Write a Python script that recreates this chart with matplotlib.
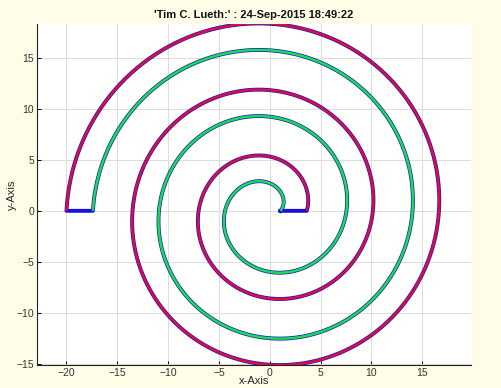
import numpy as np
import matplotlib
matplotlib.use("Agg")
import matplotlib.pyplot as plt

# ================================================
# WAARDEN (afgelezen uit het plaatje)
# ================================================
TITEL = "'Tim C. Lueth:' : 24-Sep-2015 18:49:22"
x_ticks = [-20, -15, -10, -5, 0, 5, 10, 15]
y_ticks = [-15, -10, -5, 0, 5, 10, 15]
x_limits = [-22.9, 19.8]
y_limits = [-15.1, 18.3]

# spiraalband: startstraal binnen- en buitenrand, groei per halve slag, aantal halve slagen
binnen_r0 = 1.1
buiten_r0 = 3.7
groei_per_halve_slag = 3.25
halve_slagen = 5
centrum_x = -0.05

BLAUW = "#1a10d8"
ROOD = "#d8103c"
GROEN = "#18e048"
ACHTERGROND = "#fffde8"


def spiraal(r0):
    """Archimedes-spiraal r = r0 + groei * theta / pi."""
    theta = np.linspace(0, halve_slagen * np.pi, 800)
    r = r0 + groei_per_halve_slag * theta / np.pi
    return centrum_x + r * np.cos(theta), r * np.sin(theta)


xb, yb = spiraal(binnen_r0)
xo, yo = spiraal(buiten_r0)

# gesloten contour: binnenrand heen, buitenrand terug
xc = np.concatenate([xb, xo[::-1], xb[:1]])
yc = np.concatenate([yb, yo[::-1], yb[:1]])

fig = plt.figure(figsize=(5.02, 3.88), dpi=100, facecolor=ACHTERGROND)
ax = fig.add_axes([0.0737, 0.0593, 0.8645, 0.8789])
ax.set_facecolor("white")

ax.plot(xc, yc, color=BLAUW, lw=2.8, solid_joinstyle="round", zorder=3)
ax.plot(xo, yo, color=ROOD, lw=1.8, solid_capstyle="butt", zorder=4)
ax.plot(xb, yb, color=GROEN, lw=1.8, solid_capstyle="butt", zorder=4)

ax.set_xlim(x_limits)
ax.set_ylim(y_limits)
ax.set_xticks(x_ticks)
ax.set_yticks(y_ticks)
ax.grid(True, color="#dcdcdc", lw=0.7)
ax.set_axisbelow(True)

for s in ["top", "right"]:
    ax.spines[s].set_visible(False)
for s in ["left", "bottom"]:
    ax.spines[s].set_color("#222222")
    ax.spines[s].set_linewidth(0.8)

fam = ["Liberation Sans", "DejaVu Sans"]
ax.tick_params(direction="in", length=3, width=0.7, labelsize=7.5,
               labelcolor="#333333", pad=2)
for lab in ax.get_xticklabels() + ax.get_yticklabels():
    lab.set_family(fam)

ax.set_title(TITEL, fontsize=8, fontweight="bold", family=fam, pad=4, color="#111111")
ax.set_xlabel("x-Axis", fontsize=8, family=fam, color="#222222", va="center")
ax.set_ylabel("y-Axis", fontsize=8, family=fam, color="#222222", va="center")
ax.xaxis.set_label_coords(0.5, -0.047)
ax.yaxis.set_label_coords(-0.058, 0.5)

fig.savefig("out.png", dpi=100, facecolor=ACHTERGROND)
